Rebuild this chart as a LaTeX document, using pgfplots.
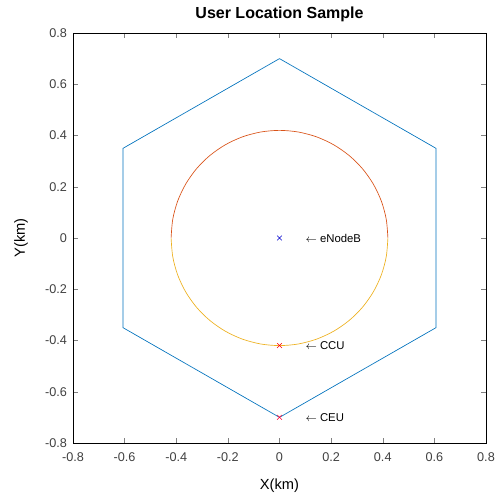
\documentclass[border=0pt]{standalone}
\usepackage{pgfplots}
\pgfplotsset{compat=1.18}
\usepackage{fontspec}
\setmainfont{Liberation Sans}
\definecolor{mblue}{rgb}{0,0.447,0.741}
\definecolor{morange}{rgb}{0.85,0.325,0.098}
\definecolor{myellow}{rgb}{0.929,0.694,0.125}
\begin{document}
\begin{tikzpicture}
\begin{axis}[
    width=309.75pt, height=307.5pt, scale only axis,
    xmin=-0.8, xmax=0.8, ymin=-0.8, ymax=0.8,
    xtick={-0.8,-0.6,...,0.8}, ytick={-0.8,-0.6,...,0.8},
    tick align=inside, xtick pos=both, ytick pos=both,
    major tick length=4pt,
    /pgf/number format/assume math mode=true,
    /pgf/number format/fixed,
    tick label style={font=\fontsize{9.5}{11}\selectfont, text=black!75},
    xticklabel style={yshift=-4pt},
    yticklabel style={xshift=-1pt},
    xlabel={X(km)}, ylabel={Y(km)},
    xlabel style={yshift=-6pt},
    ylabel style={yshift=6pt},
    label style={font=\fontsize{11}{12}\selectfont},
    title={User Location Sample},
    title style={font=\bfseries\fontsize{12}{13}\selectfont, yshift=-1pt},
    axis line style={black, line width=0.5pt},
]
% cell boundary
\addplot[mblue, line width=0.5pt] coordinates {
  (0,0.7) (0.6062,0.35) (0.6062,-0.35) (0,-0.7) (-0.6062,-0.35) (-0.6062,0.35) (0,0.7)};
% inner circle, upper half
\addplot[morange, line width=0.5pt, smooth] coordinates {
  (0.42,0) (0.4136,0.0729) (0.3947,0.1436) (0.3637,0.21) (0.3217,0.27)
  (0.27,0.3217) (0.21,0.3637) (0.1436,0.3947) (0.0729,0.4136) (0,0.42)
  (-0.0729,0.4136) (-0.1436,0.3947) (-0.21,0.3637) (-0.27,0.3217) (-0.3217,0.27)
  (-0.3637,0.21) (-0.3947,0.1436) (-0.4136,0.0729) (-0.42,0)};
% inner circle, lower half
\addplot[myellow, line width=0.5pt, smooth] coordinates {
  (-0.42,0) (-0.4136,-0.0729) (-0.3947,-0.1436) (-0.3637,-0.21) (-0.3217,-0.27)
  (-0.27,-0.3217) (-0.21,-0.3637) (-0.1436,-0.3947) (-0.0729,-0.4136) (0,-0.42)
  (0.0729,-0.4136) (0.1436,-0.3947) (0.21,-0.3637) (0.27,-0.3217) (0.3217,-0.27)
  (0.3637,-0.21) (0.3947,-0.1436) (0.4136,-0.0729) (0.42,0)};
% points
\addplot[only marks, mark=x, mark size=2.5pt, blue!80!black] coordinates {(0,0)};
\addplot[only marks, mark=x, mark size=2.5pt, red] coordinates {(0,-0.42)};
\addplot[only marks, mark=x, mark size=2.5pt, red!80!magenta] coordinates {(0,-0.7)};
\node[anchor=west, font=\fontsize{8.5}{9}\selectfont, inner sep=0pt] at (axis cs:0.1,0) {$\leftarrow$ eNodeB};
\node[anchor=west, font=\fontsize{8.5}{9}\selectfont, inner sep=0pt] at (axis cs:0.1,-0.42) {$\leftarrow$ CCU};
\node[anchor=west, font=\fontsize{8.5}{9}\selectfont, inner sep=0pt] at (axis cs:0.1,-0.7) {$\leftarrow$ CEU};
\coordinate (ll) at (rel axis cs:0,0);
\coordinate (ur) at (rel axis cs:1,1);
\end{axis}
\pgfresetboundingbox
\path ([xshift=-54.75pt,yshift=-40.5pt]ll) rectangle ([xshift=11.25pt,yshift=24.75pt]ur);
\end{tikzpicture}
\end{document}
